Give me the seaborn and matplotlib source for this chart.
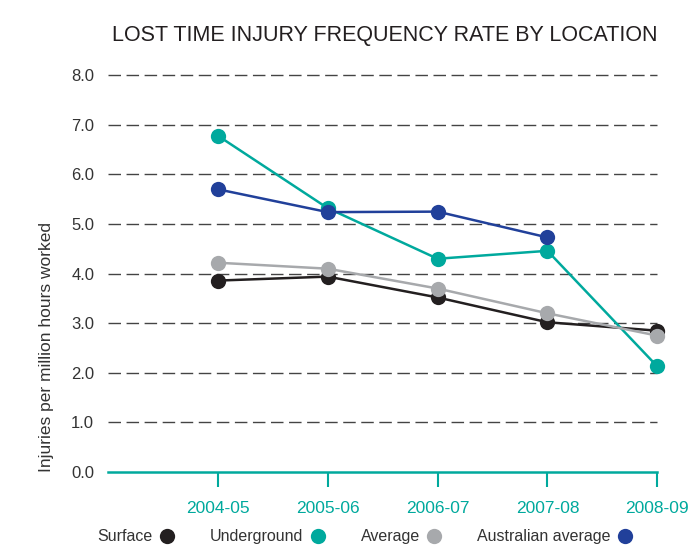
import matplotlib
matplotlib.use("Agg")
import matplotlib.pyplot as plt
from matplotlib.lines import Line2D
import seaborn as sns
import pandas as pd

# data
years = ["2004-05", "2005-06", "2006-07", "2007-08", "2008-09"]
surface = [3.86, 3.94, 3.52, 3.02, 2.85]
underground = [6.78, 5.32, 4.30, 4.46, 2.13]
average = [4.22, 4.10, 3.70, 3.20, 2.75]
australian = [5.70, 5.24, 5.25, 4.73, None]
series_names = ["Surface", "Underground", "Average", "Australian average"]
colors = ["#231f20", "#00a99d", "#a7a9ac", "#21409a"]
yticks = [0, 1, 2, 3, 4, 5, 6, 7, 8]

rows = []
for name, vals in zip(series_names, [surface, underground, average, australian]):
    for yr, v in zip(years, vals):
        if v is not None:
            rows.append({"year": yr, "rate": v, "location": name})
df = pd.DataFrame(rows)

sns.set_theme(style="white")
plt.rcParams["font.family"] = ["Liberation Sans", "DejaVu Sans"]

fig = plt.figure(figsize=(6.97, 5.58), dpi=100)
ax = fig.add_axes([0.155, 0.154, 0.788, 0.713])

# dashed grid first so lines sit on top
for t in yticks[1:]:
    ax.axhline(t, color="#444444", lw=1.0, ls=(0, (9, 4)), zorder=0)

sns.lineplot(data=df, x="year", y="rate", hue="location", hue_order=series_names,
             palette=colors, marker="o", markersize=11, markeredgewidth=0,
             linewidth=1.8, sort=False, legend=False, ax=ax)
for ln in ax.lines:
    ln.set_clip_on(False)

ax.set_xlim(-1, 4)
ax.set_ylim(0, 8.02)
ax.set_yticks(yticks)
ax.set_yticklabels([f"{t:.1f}" for t in yticks], fontsize=12, color="#333333")
ax.set_xticks(range(len(years)))
ax.set_xticklabels(years, fontsize=12.5, color="#00a99d")
ax.tick_params(axis="x", bottom=True, length=11, width=1.5, color="#00a99d",
               direction="out", pad=10)
ax.tick_params(axis="y", left=False, length=0, pad=10)
ax.set_xlabel("")
ax.set_ylabel("Injuries per million hours worked", fontsize=12.5, color="#333333",
              loc="bottom", labelpad=12)

for s in ["top", "right", "left"]:
    ax.spines[s].set_visible(False)
ax.spines["bottom"].set_color("#00a99d")
ax.spines["bottom"].set_linewidth(1.8)

fig.text(0.943, 0.937, "LOST TIME INJURY FREQUENCY RATE BY LOCATION",
         ha="right", va="center", fontsize=15.5, color="#231f20")

handles = [Line2D([], [], ls="none", marker="o", markersize=11, markeredgewidth=0,
                  color=c) for c in colors]
fig.legend(handles, series_names, loc="center", bbox_to_anchor=(0.525, 0.038),
           ncol=4, frameon=False, markerfirst=False, fontsize=11.5,
           handletextpad=0.3, handlelength=1.2, columnspacing=2.1,
           labelcolor="#333333")

fig.savefig("out.png", dpi=100)
